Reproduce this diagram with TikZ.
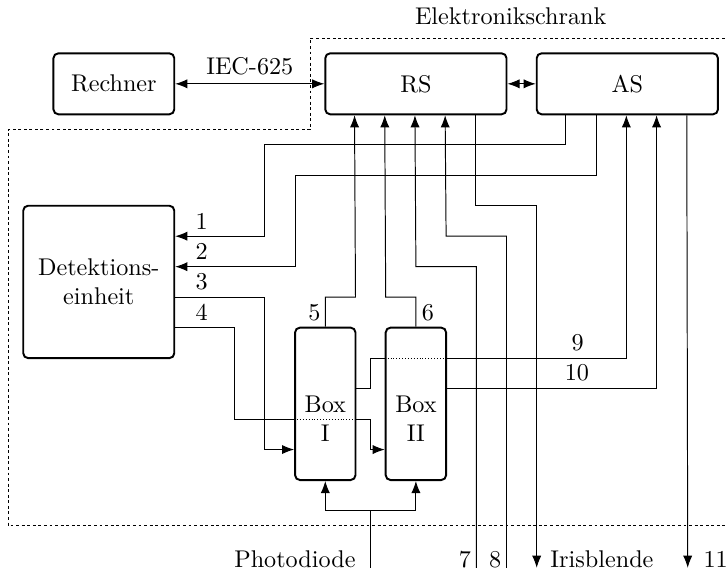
\documentclass[tikz,border=0pt]{standalone}
\usetikzlibrary{arrows.meta,calc}
\def\Lrechner{Rechner}
\def\Lschrank{Elektronikschrank}
\def\Ldetektion{Detektions-\\einheit}
\def\Lboxeins{Box\\I}
\def\Lboxzwei{Box\\II}
\def\Lphoto{Photodiode}
\def\Liris{Irisblende}

\begin{document}
\begin{tikzpicture}[
  x=0.439cm, y=0.443cm,
  >={Latex[length=5pt,width=3.8pt]},
  kasten/.style={
    draw, line width=0.8pt, rounded corners=2pt, align=center, inner sep=0pt
  },
  rahmen/.style={line width=0.4pt, dash pattern=on 1.2pt off 1.1pt},
  trenner/.style={line width=0.4pt, dash pattern=on 0.4pt off 0.8pt},
  nummer/.style={inner sep=0pt}
]

% ── Raster: eine Einheit = Abstand zweier Leitungen ──
\def\ex{0.439cm} \def\ey{0.443cm}
\useasboundingbox (0.23,-1.09) rectangle (24.3,17.75);

% ── Gestrichelter Rahmen des Schranks (rechts offen, laeuft aus dem Bild) ──
\draw[rahmen] (24.6,16.5) -- (10.5,16.5) -- (10.5,13.5) -- (0.5,13.5)
  -- (0.5,0.5) -- (24.6,0.5);
\node[anchor=base] (schrank) at (17.14,16.93) {\Lschrank};

% ── Kaesten ──
\node[kasten, minimum width=4*\ex, minimum height=2*\ey] (rechner) at (4,15) {\Lrechner};
\node[kasten, minimum width=6*\ex, minimum height=2*\ey] (rs) at (14,15) {RS};
\node[kasten, minimum width=6*\ex, minimum height=2*\ey] (as) at (21,15) {AS};
\node[kasten, minimum width=5*\ex, minimum height=5*\ey] (det) at (3.5,8.5) {\Ldetektion};
\node[kasten, minimum width=2*\ex, minimum height=5*\ey] (boxI) at (11,4.5) {};
\node[kasten, minimum width=2*\ex, minimum height=5*\ey] (boxII) at (14,4.5) {};

% freie Enden am unteren Rand
\coordinate (photo) at (12.5,-0.88);
\coordinate (aus7) at (16,-0.88);
\coordinate (aus8) at (17,-0.88);
\coordinate (iris) at (18,-0.88);
\coordinate (aus11) at (23,-0.88);

% ── Verbindungen ──
\draw[<->] (rechner) -- node[above] (iec) {IEC-625} (rs);
\draw[<->] (rs) -- (as);

% Leitungen 1 und 2: AS -> Detektionseinheit
\draw[->] ($(as.south west)+(1,0)$) |- (9,13) |- ($(det.east)+(0,1.5)$);
\draw[->] ($(as.south west)+(2,0)$) |- (10,12) |- ($(det.east)+(0,0.5)$);

% Leitungen 3 und 4: Detektionseinheit -> Box I, Box II
\draw[->] ($(det.east)+(0,-0.5)$) -| (9,3) -- ($(boxI.west)+(0,-1.5)$);
\draw ($(det.east)+(0,-1.5)$) -| (8,4) -- ($(boxI.west)+(0,-0.5)$);
\draw[trenner] ($(boxI.west)+(0,-0.5)$) -- ($(boxI.east)+(0,-0.5)$);
\draw[->] ($(boxI.east)+(0,-0.5)$) -| (12.5,3) -- ($(boxII.west)+(0,-1.5)$);

% Leitungen 5 und 6: Box I, Box II -> RS
\draw[->] (boxI.north) |- (12,8) -- ($(rs.south west)+(1,0)$);
\draw[->] (boxII.north) |- (13,8) -- ($(rs.south west)+(2,0)$);

% Leitungen 7 und 8 von unten -> RS, RS -> Irisblende
\draw[->] (aus7) |- (14,9) -- ($(rs.south west)+(3,0)$);
\draw[->] (aus8) |- (15,10) -- ($(rs.south west)+(4,0)$);
\draw[->] ($(rs.south west)+(5,0)$) |- (18,11) -- (iris);

% Leitungen 9 und 10: Box I, Box II -> AS
\draw ($(boxI.east)+(0,0.5)$) -| (12.5,6) -- ($(boxII.west)+(0,1.5)$);
\draw[trenner] ($(boxII.west)+(0,1.5)$) -- ($(boxII.east)+(0,1.5)$);
\draw[->] ($(boxII.east)+(0,1.5)$) -| ($(as.south west)+(3,0)$);
\draw[->] ($(boxII.east)+(0,0.5)$) -| ($(as.south west)+(4,0)$);

% AS -> Ausgang 11
\draw[->] ($(as.south west)+(5,0)$) -- (aus11);

% Photodiode -> Box I und Box II
\draw (photo) -- (12.5,1);
\draw[<->] (boxI.south) |- (12.5,1) -| (boxII.south);

% ── Beschriftungen ──
\node[align=center] (textI) at (11,4) {\Lboxeins};
\node[align=center] (textII) at (14,4) {\Lboxzwei};
\foreach \n/\y in {1/10.5, 2/9.5, 3/8.5, 4/7.5}
  \node[nummer] (n\n) at (6.91,\y) {\n};
\node[nummer] (n5) at (10.64,7.5) {5};
\node[nummer] (n6) at (14.40,7.5) {6};
\node[nummer] (n9) at (19.36,6.52) {9};
\node[nummer] (n10) at (19.33,5.53) {10};
\node[anchor=base east, inner sep=2pt] (n7) at (aus7) {7};
\node[anchor=base east, inner sep=2pt] (n8) at (aus8) {8};
\node[anchor=base east, inner sep=0pt] (lphoto) at ($(photo)+(-0.48,0)$) {\Lphoto};
\node[anchor=base west, inner sep=0pt] (liris) at ($(iris)+(0.44,0)$) {\Liris};
\node[anchor=base west, inner sep=0pt] (n11) at ($(aus11)+(0.51,0)$) {11};

\end{tikzpicture}
\end{document}
